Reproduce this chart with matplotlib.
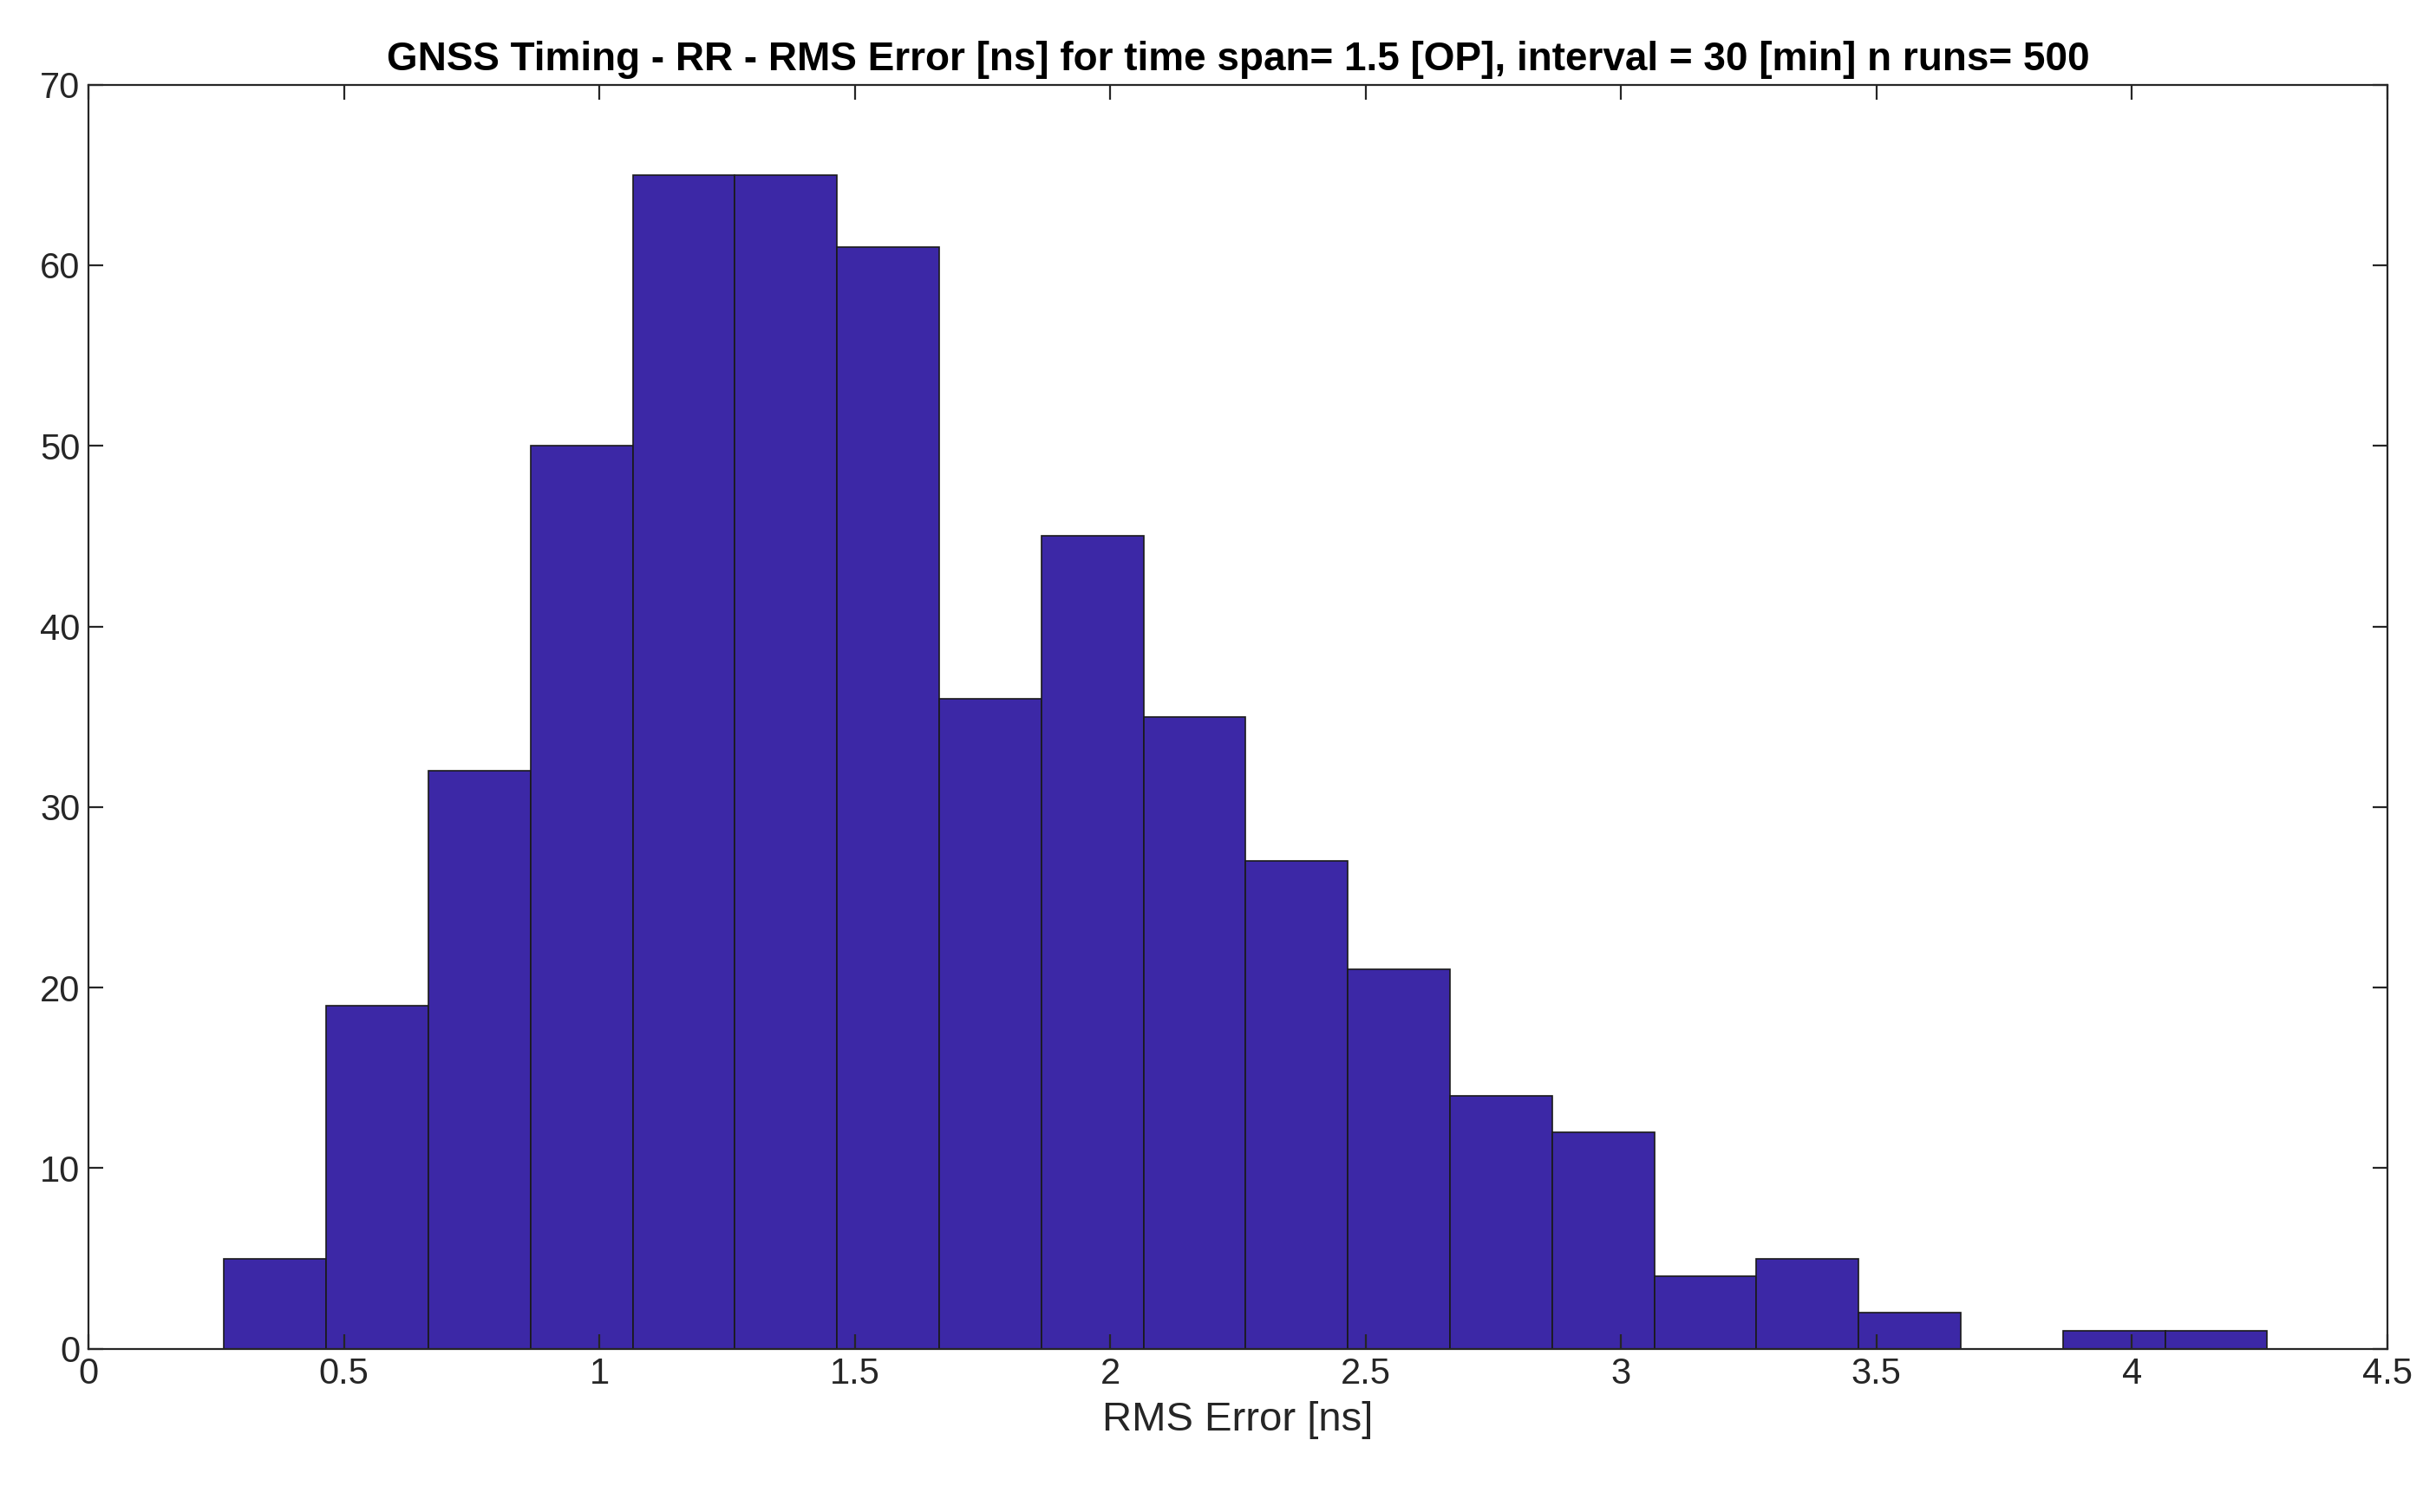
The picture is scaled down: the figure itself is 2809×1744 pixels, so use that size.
import matplotlib
matplotlib.use("Agg")
import matplotlib.pyplot as plt
import numpy as np

counts = [5, 19, 32, 50, 65, 65, 61, 36, 45, 35, 27, 21, 14, 12, 4, 5, 2, 0, 1, 1]
first_edge = 0.265
bin_width = 0.2
edges = first_edge + bin_width * np.arange(len(counts) + 1)

plt.rcParams['font.family'] = ['Arial', 'Liberation Sans', 'DejaVu Sans']
fig = plt.figure(figsize=(14.045, 8.72), dpi=200)
ax = fig.add_axes([0.0364, 0.108, 0.9436, 0.836])
ax.bar(edges[:-1], counts, width=bin_width, align='edge', color='#3C28A6',
       edgecolor='#1a1a1a', linewidth=0.6)
ax.set_xlim(0, 4.5)
ax.set_ylim(0, 70)
ax.set_xticks(np.arange(0, 4.51, 0.5))
ax.set_xticklabels(['0', '0.5', '1', '1.5', '2', '2.5', '3', '3.5', '4', '4.5'])
ax.set_yticks(np.arange(0, 71, 10))
ax.tick_params(direction='in', top=True, right=True, labelsize=15, length=6, colors='#262626')
for s in ax.spines.values():
    s.set_color('#262626'); s.set_linewidth(0.8)
ax.set_xlabel('RMS Error [ns]', fontsize=17, color='#262626', labelpad=4)
ax.set_title('GNSS Timing - RR - RMS Error [ns] for time span= 1.5 [OP], interval = 30 [min] n runs= 500',
             fontsize=16.5, fontweight='bold', pad=6)
fig.savefig('out.png', dpi=200)
